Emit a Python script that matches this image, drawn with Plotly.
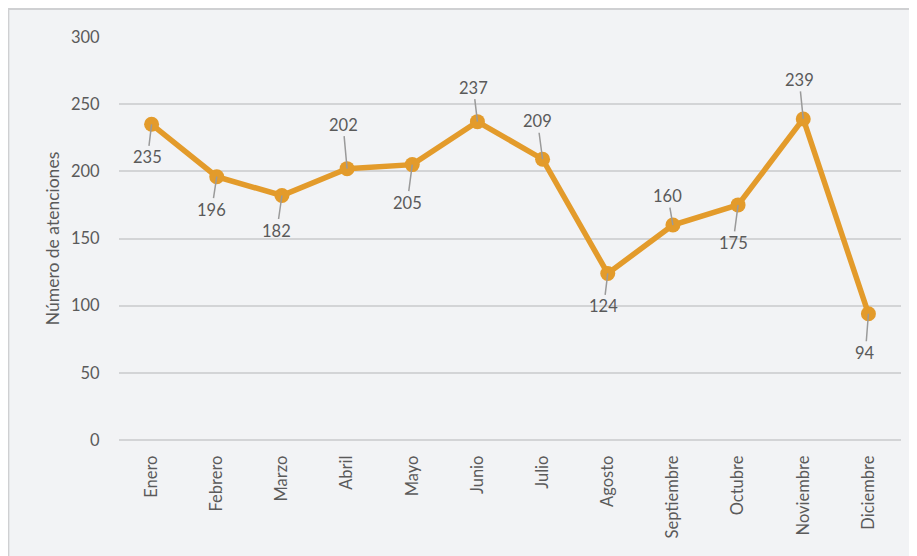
import plotly.graph_objects as go

months = ["Enero", "Febrero", "Marzo", "Abril", "Mayo", "Junio", "Julio",
          "Agosto", "Septiembre", "Octubre", "Noviembre", "Diciembre"]
values = [235, 196, 182, 202, 205, 237, 209, 124, 160, 175, 239, 94]
# label offset (pixels) from each point: (dx, dy)
label_offsets = [(-4, 33), (-5, 33), (-5, 35), (-4, -44), (-5, 38), (-4, -34),
                 (-5, -38), (-4, 33), (-5, -29), (-5, 38), (-4, -39), (-3, 39)]
y_ticks = [0, 50, 100, 150, 200, 250, 300]

FONT = "Lato, 'Open Sans', sans-serif"
TXT = "#5a5a5a"
LINE = "#E39B2B"
W = 400

fig = go.Figure()
fig.add_trace(go.Scatter(
    x=months, y=values, mode="lines+markers",
    line=dict(color=LINE, width=5.5),
    marker=dict(color=LINE, size=15),
    hoverinfo="x+y", showlegend=False,
))

for m, v, (dx, dy) in zip(months, values, label_offsets):
    fig.add_annotation(
        x=m, y=v, text=str(v), showarrow=True, arrowhead=0,
        arrowwidth=1.5, arrowcolor="#9a9a9a", ax=dx, ay=dy,
        standoff=0, startstandoff=0,
        font=dict(family=FONT, size=16.5, color=TXT, weight=W),
    )

fig.add_shape(type="rect", xref="paper", yref="paper",
              x0=-0.1415, x1=1.05, y0=-0.3, y1=1.0695,
              line=dict(color="#cfd0d2", width=2), fillcolor="rgba(0,0,0,0)",
              layer="below")

fig.update_layout(
    width=909, height=548,
    margin=dict(l=111, r=16, t=29, b=116, autoexpand=False),
    paper_bgcolor="#f2f3f5", plot_bgcolor="#f2f3f5",
    font=dict(family=FONT, size=16.5, color=TXT, weight=W),
    xaxis=dict(
        type="category", tickangle=-90, showgrid=False, zeroline=False,
        showline=False, ticks="outside", ticklen=8, tickcolor="rgba(0,0,0,0)",
        tickfont=dict(family=FONT, size=16.5, color=TXT, weight=W),
        range=[-0.5, 11.5], automargin=False,
    ),
    yaxis=dict(
        range=[0, 300], tickvals=y_ticks, showgrid=True,
        gridcolor="#d3d4d6", gridwidth=1.5, zeroline=True,
        zerolinecolor="#d3d4d6", zerolinewidth=1.5,
        ticks="outside", ticklen=15, tickcolor="rgba(0,0,0,0)",
        tickfont=dict(family=FONT, size=16.5, color=TXT, weight=W),
        automargin=False,
        title=dict(text="Número de atenciones", standoff=6,
                   font=dict(family=FONT, size=17.5, color=TXT, weight=W)),
    ),
)

fig.write_html("out.html")
